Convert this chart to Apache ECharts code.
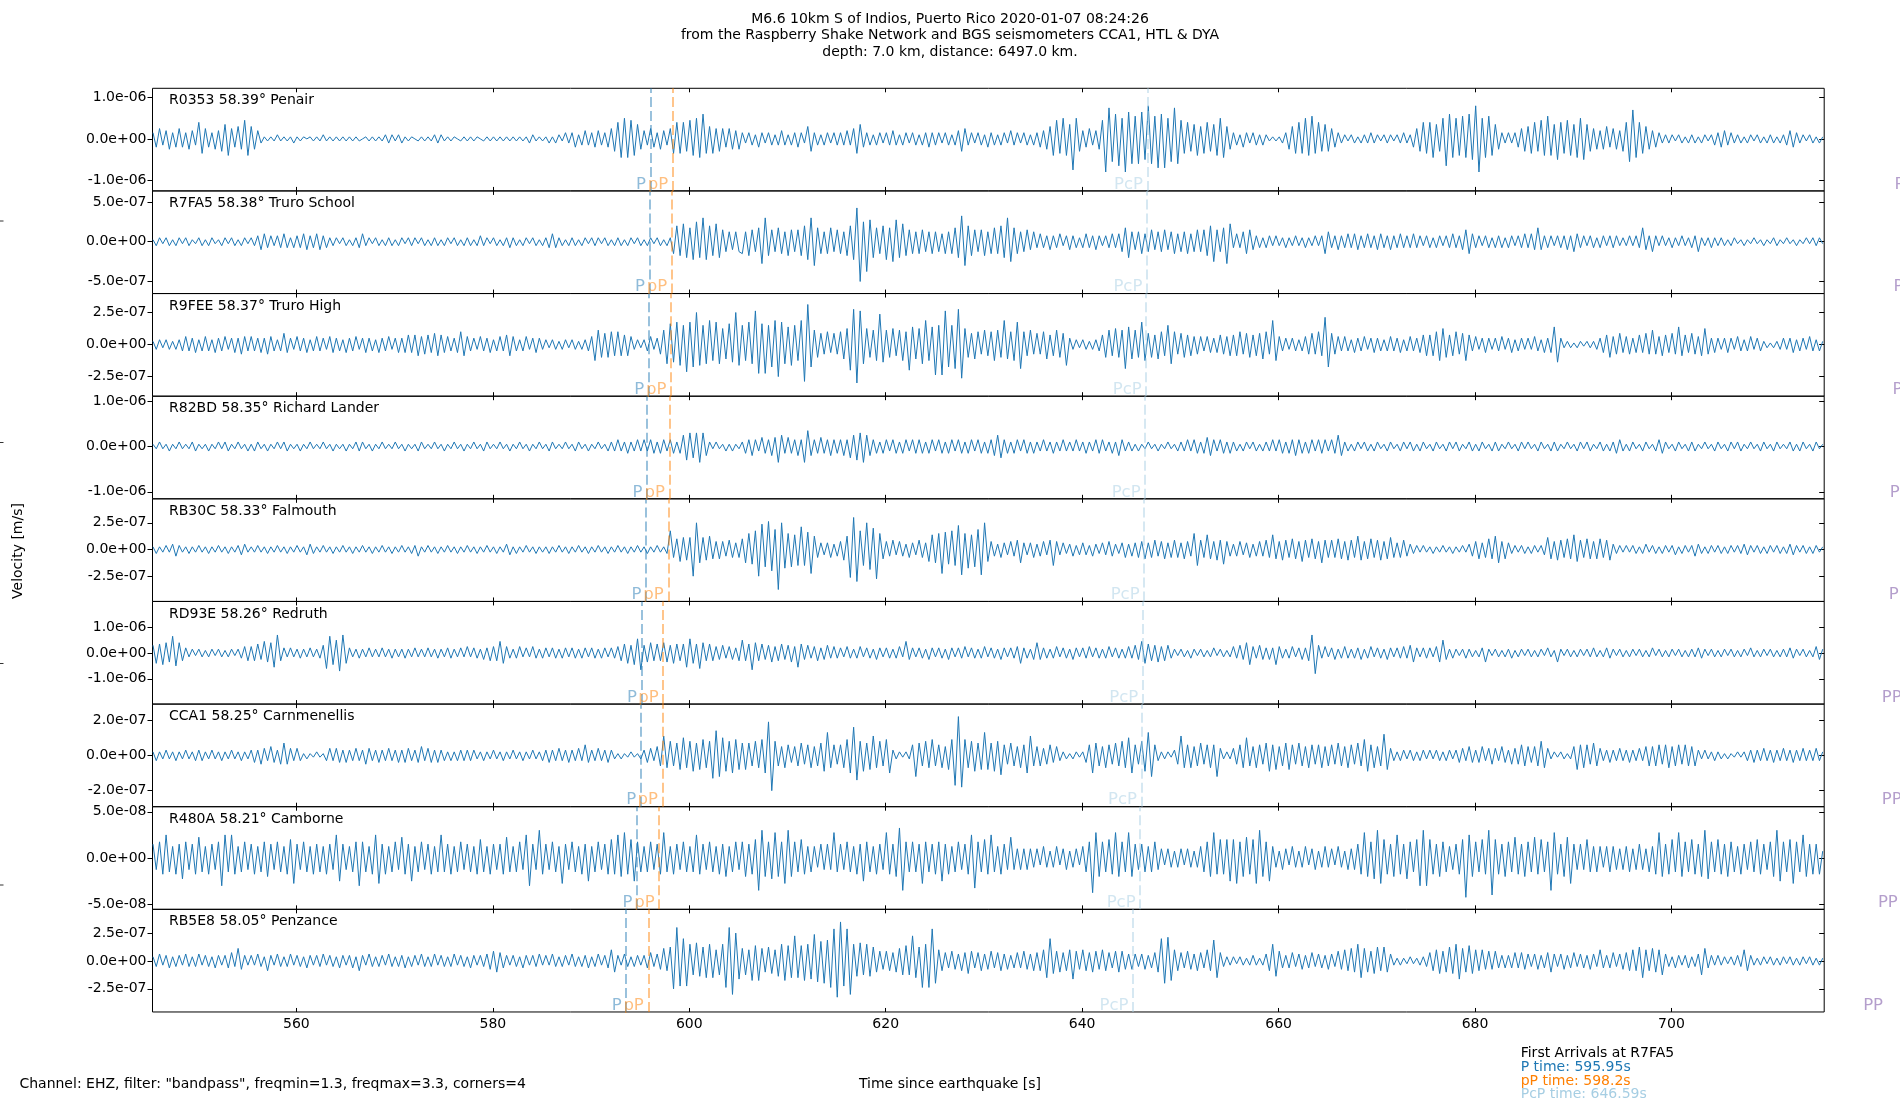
<!DOCTYPE html>
<html><head><meta charset="utf-8">
<script src="https://cdn.jsdelivr.net/npm/echarts@6/dist/echarts.min.js"></script>
<style>html,body{margin:0;padding:0;background:#fff}#chart{width:1900px;height:1100px}</style>
</head><body><div id="chart"></div>
<script>
// ---------------- DATA ----------------
const titleLines = [
  'M6.6 10km S of Indios, Puerto Rico 2020-01-07 08:24:26',
  'from the Raspberry Shake Network and BGS seismometers CCA1, HTL & DYA',
  'depth: 7.0 km, distance: 6497.0 km.'
];
const stationLabels = [
  'R0353 58.39° Penair', 'R7FA5 58.38° Truro School', 'R9FEE 58.37° Truro High',
  'R82BD 58.35° Richard Lander', 'RB30C 58.33° Falmouth', 'RD93E 58.26° Redruth',
  'CCA1 58.25° Carnmenellis', 'R480A 58.21° Camborne', 'RB5E8 58.05° Penzance'
];
const pTimes   = [596.05, 595.95, 595.87, 595.68, 595.60, 595.12, 595.05, 594.68, 593.57];
const pPTimes  = [598.31, 598.20, 598.13, 597.98, 597.86, 597.35, 597.27, 596.94, 595.83];
const pcpTimes = [646.66, 646.59, 646.52, 646.41, 646.31, 646.16, 646.05, 645.90, 645.18];
const ppTimes  = [725.2, 725.1, 725.0, 724.7, 724.6, 723.9, 723.9, 723.5, 722.0];
const yTickValues = [1e-6, 5e-7, 2.5e-7, 1e-6, 2.5e-7, 1e-6, 2e-7, 5e-8, 2.5e-7];
const yTop    = [1.224e-6, 6.39e-7, 3.98e-7, 1.11e-6, 4.75e-7, 2.0e-6, 2.91e-7, 5.55e-8, 4.63e-7];
const yBottom = [-1.258e-6, -6.52e-7, -4.03e-7, -1.154e-6, -4.87e-7, -1.98e-6, -2.91e-7, -5.55e-8, -4.575e-7];
const xTickValues = [560, 580, 600, 620, 640, 660, 680, 700];
const xRange = [545.35, 715.55];
const sampleStart = 545.4;
const sampleStep = 1 / 3;
// amplitude unit of each trace array (m/s per count)
const ampUnit = [5e-8, 2.5e-8, 1.25e-8, 5e-8, 1.25e-8, 5e-8, 1e-8, 2.5e-9, 1.25e-8];
const legendLines = ['First Arrivals at R7FA5', 'P time: 595.95s', 'pP time: 598.2s', 'PcP time: 646.59s'];
const footerLeft = 'Channel: EHZ, filter: "bandpass", freqmin=1.3, freqmax=3.3, corners=4';
const xAxisName = 'Time since earthquake [s]';
const yAxisName = 'Velocity [m/s]';

const traceR0353 = [
3,-4,5,-3,4,-5,3,-4,5,-4,3,-5,4,-3,8,-7,5,-4,3,-5,4,-6,7,-8,5,-4,6,-5,9,-8,
6,-5,4,-2,1,-1,1,-1,2,-1,1,-1,1,-2,1,-1,1,0,1,-1,1,-1,2,-1,1,-1,1,-1,1,-1,
1,-1,1,-1,0,1,-1,1,-1,1,-1,2,-2,2,-1,2,-2,1,-1,1,0,-1,1,-1,1,-1,2,-2,2,-1,
1,-1,1,0,-1,1,-1,1,-1,1,0,-1,1,-1,1,-1,1,-1,1,-1,1,-1,1,-1,1,-2,2,-1,1,-1,
1,-2,1,-2,2,-1,3,-2,3,-4,2,-3,4,-3,3,-4,4,-3,3,-4,5,-6,8,-9,10,-9,9,-8,7,-5,
4,-3,5,-4,3,-5,4,-3,5,-7,8,-7,8,-6,9,-8,10,-9,12,-7,6,-7,5,-6,5,-4,5,-5,4,-5,
3,-2,3,-3,2,-4,3,-2,3,-3,2,-3,4,-3,2,-3,3,-4,3,-2,6,-6,3,-3,2,-3,3,-2,3,-3,
3,-3,4,-3,5,-7,7,-4,3,-3,2,-3,3,-2,3,-3,4,-3,2,-3,3,-2,3,-3,2,-3,3,-4,3,-3,
3,-2,3,-3,2,-3,4,-6,5,-3,3,-2,3,-3,2,-4,3,-3,2,-3,3,-2,4,-3,3,-2,3,-3,2,-3,
3,-4,4,-5,6,-8,9,-7,10,-8,7,-15,10,-6,4,-4,5,-3,4,-5,9,-16,15,-11,12,-13,10,-16,13,-12,
11,-12,13,-10,16,-12,11,-14,12,-14,10,-11,15,-12,9,-7,8,-6,7,-8,6,-7,8,-6,7,-8,10,-9,6,-5,
3,-3,2,-4,3,-2,3,-3,2,-3,2,-1,1,-1,1,-2,3,-5,6,-7,8,-7,10,-8,11,-7,8,-6,7,-6,
5,-4,3,-2,2,-1,2,-2,1,-2,2,-2,3,-2,2,-1,2,-2,2,-1,2,-2,3,-2,2,-4,5,-6,8,-7,
8,-9,7,-6,10,-13,12,-9,10,-8,11,-9,12,-10,16,-16,10,-9,11,-8,7,-5,3,-2,3,-2,3,-4,5,-6,
6,-7,8,-6,9,-8,11,-8,7,-10,8,-7,9,-8,7,-9,10,-10,7,-6,5,-5,4,-5,6,-4,5,-5,4,-6,
8,-11,14,-9,8,-7,6,-5,4,-4,3,-2,2,-2,2,-1,2,-2,1,-2,2,-2,1,-2,2,-1,2,-3,3,-4,
4,-3,3,-2,2,-2,1,-2,2,-1,2,-2,1,-2,2,-2,1,-2,2,-3,4,-4,3,-2,2,-1,2,-2,1,-2,1
];
const traceR7FA5 = [
1,-2,2,-1,2,-2,1,-2,2,-1,2,-2,1,-1,2,-2,1,-2,2,-1,1,-2,2,-1,2,-2,1,-2,2,-1,
2,-2,3,-4,4,-3,3,-2,3,-3,4,-3,2,-3,3,-3,4,-4,3,-3,4,-4,3,-3,2,-2,2,-1,2,-2,
1,-2,2,-3,4,-2,2,-1,2,-2,1,-2,2,-2,1,-2,2,-1,2,-2,2,-1,2,-2,1,-2,2,-2,1,-2,
2,-1,2,-2,1,-2,2,-2,1,-2,3,-2,2,-1,2,-2,1,-2,2,-3,2,-2,1,-2,2,-1,2,-2,1,-2,
2,-3,4,-3,2,-2,1,-2,2,-2,1,-2,2,-1,2,-2,2,-1,2,-2,1,-2,2,-2,1,-2,2,-1,2,-2,
1,-2,2,-1,2,-2,1,-2,2,-6,8,-7,9,-8,7,-9,10,-8,12,-9,8,-7,9,-8,6,-5,5,-4,5,-5,
-6,5,-7,6,-5,7,-11,12,-7,6,-5,7,-6,5,-7,6,-5,6,-7,8,-9,12,-12,7,-6,5,-6,7,-5,6,
-6,5,-7,8,-9,17,-20,10,-15,11,-8,7,-6,8,-9,7,-10,11,-8,9,-7,6,-6,5,-6,6,-5,5,-6,5,
-5,4,-6,5,-6,7,-8,13,-12,8,-7,6,-5,6,-7,5,-6,7,-6,8,-8,12,-10,7,-6,5,-5,6,-4,5,
-3,4,-3,3,-4,3,-3,4,-2,3,-4,3,-3,2,-3,4,-3,3,-4,3,-2,3,-3,4,-3,4,-5,7,-8,5,
-4,5,-6,4,-5,6,-4,5,-5,6,-4,5,-6,4,-5,5,-6,4,-5,6,-5,6,-7,8,-10,6,-5,7,-11,9,
-3,4,-3,5,-6,6,-4,3,-3,2,-3,3,-2,3,-2,2,-3,2,-2,3,-2,2,-3,2,-2,3,-2,3,-6,5,
-3,3,-4,3,-3,4,-3,4,-4,3,-3,4,-3,3,-4,4,-3,3,-4,3,-3,4,-3,3,-3,4,-3,3,-2,3,
-3,2,-3,3,-2,3,-3,4,-3,3,-4,6,-6,4,-3,3,-2,3,-3,2,-3,3,-3,2,-3,3,-2,3,-3,4,
-3,4,-4,7,-4,3,-3,3,-2,3,-3,3,-4,3,-5,4,-3,3,-2,3,-3,2,-3,3,-2,3,-3,3,-2,2,
-2,3,-2,3,-3,7,-4,3,-5,3,-2,3,-2,2,-3,2,-2,3,-2,2,-3,3,-5,2,-2,2,-3,2,-2,2,
-2,1,-2,2,-1,1,-2,1,-1,2,-1,1,-2,1,-1,2,-2,1,-1,2,-1,1,-2,1,-1,2,-1,2,-2,2,-1
];
const traceR9FEE = [
2,-3,3,-2,3,-3,2,-3,3,-4,5,-4,4,-5,3,-4,5,-4,3,-5,4,-4,5,-3,4,-5,4,-6,5,-4,
5,-4,4,-5,4,-6,5,-4,3,-4,7,-5,4,-3,5,-4,4,-5,3,-4,5,-4,4,-3,5,-5,4,-4,3,-5,
4,-4,5,-3,4,-5,4,-4,3,-5,4,-4,5,-3,4,-5,4,-5,6,-5,6,-7,5,-6,6,-5,7,-7,6,-5,
5,-4,4,-5,8,-7,5,-4,4,-3,5,-4,4,-5,3,-4,5,-4,6,-7,5,-4,3,-4,5,-3,4,-5,4,-3,
3,-2,3,-3,2,-3,3,-2,3,-3,2,-3,3,-4,5,-10,9,-8,7,-8,8,-7,8,-7,6,-7,5,-3,3,-2,
3,-4,5,-3,4,-6,9,-12,13,-11,14,-13,12,-17,14,-14,20,-13,12,-12,15,-10,14,-12,10,-9,13,-11,20,-13,
12,-10,14,-12,21,-18,13,-18,12,-14,15,-20,14,-12,11,-13,12,-10,15,-23,25,-14,9,-8,7,-6,8,-5,7,-6,
8,-9,10,-16,22,-24,21,-12,10,-8,9,-10,19,-11,9,-8,10,-7,9,-10,8,-16,11,-9,10,-12,15,-10,11,-19,
12,-19,21,-14,12,-15,22,-21,10,-8,7,-9,8,-6,9,-7,8,-10,9,-8,15,-9,8,-10,14,-15,8,-7,9,-6,
7,-6,8,-9,6,-7,9,-8,7,-13,4,-3,3,-2,3,-3,2,-3,3,-4,6,-8,9,-7,10,-8,9,-15,11,-9,
9,-8,14,-10,7,-8,6,-9,8,-7,12,-12,8,-6,7,-8,6,-7,5,-6,5,-4,5,-5,4,-5,6,-6,5,-7,
6,-7,8,-6,7,-8,6,-7,7,-9,8,-6,15,-10,5,-4,4,-3,4,-4,3,-4,5,-6,7,-6,8,-7,17,-14,
7,-6,5,-4,5,-4,3,-5,4,-4,5,-3,4,-5,4,-4,3,-4,5,-4,4,-5,3,-4,5,-4,4,-5,6,-7,
6,-7,8,-10,10,-8,6,-7,8,-6,7,-10,6,-4,5,-3,4,-5,4,-3,4,-4,5,-3,4,-5,3,-4,4,-3,
4,-3,5,-4,3,-5,4,-5,11,-11,4,-2,2,-2,1,-2,2,-1,2,-2,2,-3,4,-5,6,-8,5,-6,7,-5,
5,-6,4,-5,6,-5,7,-6,9,-6,5,-7,6,-5,7,-6,11,-7,6,-5,7,-6,5,-7,10,-6,4,-5,4,-3,
4,-5,4,-3,5,-4,3,-4,5,-3,4,-4,2,-2,1,-2,2,-3,4,-3,4,-5,3,-4,4,-3,5,-4,3,-4,2
];
const traceR82BD = [
1,-1,2,-1,1,-2,1,-1,2,-1,1,-1,2,-2,1,-1,1,-2,1,-1,2,-1,2,-2,1,-1,2,-1,1,-2,
1,-2,2,-1,1,-2,1,-1,2,-1,2,-2,1,-1,1,-2,1,-1,2,-1,1,-1,2,-1,1,-2,1,-1,1,-2,
1,-1,2,-2,2,-1,1,-2,1,-1,2,-1,1,-1,2,-1,1,-2,1,-1,1,-2,2,-1,1,-1,2,-1,1,-2,
1,-1,2,-1,1,-2,1,-1,2,-1,1,-2,2,-1,1,-1,2,-1,1,-2,1,-1,2,-1,1,-2,1,-1,2,-1,
1,-2,2,-1,1,-1,2,-1,1,-2,2,-1,1,-2,1,-1,2,-1,1,-2,2,-2,3,-2,2,-3,2,-2,3,-2,
3,-2,3,-3,2,-3,3,-2,3,-3,2,-3,5,-6,6,-5,6,-7,6,-4,2,-1,2,-1,1,-2,1,-2,1,-1,
2,-3,3,-4,3,-2,4,-3,3,-4,4,-7,5,-3,4,-3,3,-4,3,-7,7,-4,3,-3,4,-3,3,-4,3,-3,
3,-4,3,-5,5,-6,6,-7,5,-4,3,-3,2,-3,3,-2,3,-3,2,-3,3,-2,3,-3,3,-3,2,-3,3,-2,
3,-3,2,-3,3,-2,3,-3,2,-3,3,-2,3,-3,2,-3,3,-4,5,-5,3,-3,2,-3,3,-2,3,-3,2,-3,
2,-2,3,-2,2,-3,2,-2,3,-2,2,-2,3,-2,2,-3,2,-2,3,-3,3,-2,2,-3,2,-4,3,-2,2,-2,
1,-2,1,-1,2,-1,1,-2,1,-1,2,-1,1,-2,2,-2,3,-2,3,-3,2,-3,4,-4,3,-2,3,-3,2,-3,
2,-2,1,-2,2,-1,2,-2,1,-2,2,-2,3,-2,3,-3,2,-3,3,-4,3,-3,2,-3,3,-2,3,-3,3,-2,
3,-3,5,-4,2,-2,1,-2,2,-1,2,-2,1,-2,2,-1,1,-2,2,-1,1,-2,2,-1,2,-2,1,-2,2,-1,
1,-2,2,-1,1,-2,2,-1,2,-2,1,-1,2,-2,1,-2,2,-1,1,-2,2,-2,1,-1,2,-1,1,-2,2,-1,
2,-1,1,-2,2,-1,1,-2,2,-2,1,-1,2,-1,1,-2,2,-1,2,-2,1,-1,2,-2,1,-2,2,-3,3,-2,
1,-2,2,-1,1,-2,2,-1,1,-2,3,-3,2,-1,1,-2,2,-1,1,-2,2,-2,1,-1,2,-1,1,-2,2,-1,
1,-2,2,-1,2,-2,1,-1,2,-1,1,-2,2,-1,1,-2,2,-1,1,-1,2,-2,1,-2,2,-1,1,-2,2,-1,1
];
const traceRB30C = [
2,-3,2,-2,3,-2,4,-5,3,-2,2,-3,2,-2,3,-2,2,-3,2,-2,3,-2,2,-3,2,-2,3,-4,4,-2,
2,-2,3,-2,2,-3,2,-2,3,-2,2,-3,2,-2,3,-2,2,-4,4,-3,2,-2,3,-2,2,-3,2,-2,3,-2,
2,-3,2,-2,3,-2,2,-3,2,-2,3,-2,2,-3,2,-2,3,-2,2,-3,3,-5,2,-2,3,-2,2,-3,2,-2,
3,-2,2,-3,2,-2,3,-2,2,-3,2,-2,3,-2,2,-3,2,-2,4,-4,2,-3,2,-2,3,-2,2,-3,2,-2,
2,-3,2,-2,3,-2,2,-3,2,-2,3,-2,2,-3,2,-2,3,-2,2,-3,2,-2,3,-2,2,-3,2,-2,3,-2,
2,-3,2,-2,3,-2,2,-3,14,-6,8,-9,9,-8,9,-20,20,-10,9,-8,10,-7,6,-7,6,-5,7,-6,5,-6,
8,-10,12,-11,14,-20,19,-13,21,-16,15,-30,20,-14,12,-13,11,-12,17,-12,13,-18,10,-6,5,-4,5,-6,4,-5,
6,-8,10,-21,24,-24,14,-12,20,-15,16,-22,12,-7,6,-5,7,-4,6,-5,4,-6,5,-4,7,-6,5,-9,11,-10,
12,-18,13,-11,14,-12,18,-19,12,-14,11,-13,15,-19,20,-9,6,-5,4,-6,5,-4,6,-5,7,-10,5,-4,5,-6,
4,-5,6,-4,7,-12,6,-4,5,-3,4,-5,3,-4,5,-4,3,-5,4,-3,5,-4,6,-5,4,-3,5,-6,4,-5,
5,-6,6,-7,5,-6,7,-5,6,-7,5,-6,7,-6,5,-7,6,-5,12,-12,7,-6,11,-7,6,-8,7,-11,6,-5,
4,-5,6,-4,5,-6,4,-5,6,-5,7,-6,11,-7,6,-8,7,-6,8,-7,6,-9,7,-6,8,-7,6,-10,7,-6,
7,-6,8,-7,6,-8,7,-6,10,-8,6,-7,8,-6,7,-8,6,-7,9,-6,5,-6,7,-5,4,-3,3,-2,3,-2,
2,-3,2,-2,3,-2,2,-3,2,-2,3,-2,4,-5,6,-7,5,-6,8,-7,10,-10,6,-7,5,-3,3,-2,3,-3,
2,-3,3,-2,3,-4,9,-7,6,-8,7,-6,8,-7,11,-9,7,-6,8,-7,6,-7,8,-6,7,-8,4,-3,3,-2,
3,-2,3,-3,2,-3,4,-2,3,-3,2,-3,3,-2,3,-4,2,-3,3,-2,3,-5,4,-3,2,-3,3,-2,3,-3,
2,-3,3,-2,3,-3,4,-4,3,-2,3,-3,2,-3,3,-2,3,-3,2,-3,4,-4,3,-2,3,-3,2,-3,3,-2,2
];
const traceRD93E = [
6,-8,7,-9,8,-7,13,-10,8,-6,4,-3,3,-2,3,-3,2,-3,3,-2,3,-3,2,-3,3,-2,3,-4,5,-6,
5,-6,7,-5,9,-7,8,-11,14,-6,4,-3,4,-3,3,-4,3,-3,4,-3,3,-4,6,-12,13,-9,10,-14,14,-8,
4,-3,3,-4,3,-3,4,-3,3,-3,4,-3,3,-4,3,-3,3,-4,3,-3,4,-3,3,-3,4,-3,3,-4,3,-3,
4,-4,3,-3,4,-3,5,-3,4,-4,3,-5,4,-6,5,-6,9,-8,5,-4,3,-4,5,-3,4,-3,5,-4,3,-4,
4,-3,4,-4,3,-4,4,-3,4,-4,3,-4,4,-3,4,-4,3,-4,4,-3,4,-4,5,-6,7,-8,6,-9,11,-13,
6,-7,8,-6,7,-6,8,-7,6,-8,7,-6,7,-11,11,-8,7,-12,8,-6,7,-6,5,-5,6,-4,5,-5,4,-6,
10,-6,7,-13,8,-6,7,-5,6,-7,5,-6,7,-5,6,-7,5,-11,7,-5,6,-4,5,-6,4,-5,6,-4,5,-4,
4,-3,5,-4,3,-4,5,-3,4,-4,3,-5,4,-3,4,-4,3,-4,5,-3,9,-5,4,-3,4,-4,3,-5,4,-3,
4,-4,3,-5,4,-3,4,-4,5,-3,4,-4,3,-4,5,-3,4,-4,3,-5,4,-3,4,-4,5,-8,4,-4,3,-5,
8,-5,4,-4,3,-4,5,-3,4,-4,3,-5,4,-3,4,-4,5,-3,4,-4,3,-4,5,-3,4,-4,3,-4,5,-4,
6,-5,9,-8,7,-6,6,-7,5,-6,6,-4,3,-2,3,-3,2,-4,3,-2,3,-3,2,-3,4,-2,3,-3,2,-3,
5,-4,6,-5,8,-9,5,-4,6,-5,4,-5,4,-9,5,-4,3,-4,5,-3,4,-5,4,-6,14,-16,6,-4,5,-3,
4,-5,3,-4,5,-4,3,-4,4,-5,3,-4,5,-3,4,-4,3,-5,4,-3,4,-4,5,-4,6,-7,4,-3,4,-4,
4,-3,5,-7,10,-5,3,-4,3,-2,3,-4,3,-3,2,-3,4,-7,3,-2,3,-3,2,-3,3,-4,2,-3,3,-2,
3,-3,2,-3,3,-2,4,-3,2,-7,3,-2,3,-3,2,-3,3,-2,3,-3,4,-3,2,-3,4,-4,3,-2,3,-3,
2,-3,3,-2,3,-3,2,-3,4,-2,3,-3,2,-3,3,-2,3,-3,2,-3,3,-3,4,-4,3,-2,3,-3,2,-3,
3,-2,3,-3,2,-3,3,-2,4,-3,2,-3,3,-2,3,-3,2,-3,3,-3,4,-4,3,-2,3,-3,2,-3,5,-5,3
];
const traceCCA1 = [
2,-3,2,-2,3,-2,2,-3,2,-2,3,-2,2,-3,3,-3,2,-2,3,-2,2,-3,2,-2,3,-2,2,-3,2,-2,
3,-4,3,-5,4,-3,5,-4,3,-5,7,-5,4,-3,4,-3,1,-2,1,-1,2,-1,1,-3,4,-3,4,-4,3,-4,
3,-3,4,-3,3,-5,4,-3,3,-4,3,-3,4,-3,3,-4,3,-4,4,-3,3,-4,5,-3,4,-4,3,-4,3,-3,
2,-3,2,-3,3,-3,3,-3,3,-2,2,-3,2,-2,3,-2,2,-3,2,-2,3,-2,2,-3,2,-2,3,-2,2,-3,
3,-4,3,-3,4,-3,3,-4,3,-3,4,-3,6,-4,3,-3,4,-3,3,-4,3,-2,1,-2,1,-1,2,-1,1,-2,
3,-4,4,-3,5,-6,11,-7,8,-6,7,-8,10,-7,8,-9,7,-8,9,-7,8,-13,14,-12,10,-9,8,-10,9,-8,
7,-8,7,-6,8,-7,9,-10,19,-20,8,-6,5,-7,6,-4,5,-6,7,-5,6,-7,5,-6,7,-9,13,-7,6,-5,
6,-7,9,-10,16,-14,8,-9,7,-8,11,-7,8,-6,9,-10,3,-2,2,-1,2,-2,6,-12,7,-6,8,-7,9,-6,
6,-7,5,-8,9,-17,22,-18,9,-7,8,-9,7,-8,13,-8,7,-9,8,-11,6,-5,7,-6,5,-7,6,-10,11,-6,
5,-6,4,-5,6,-4,5,-3,2,-2,1,-2,2,-1,2,-4,6,-10,7,-6,5,-7,6,-5,7,-6,8,-7,10,-10,
6,-5,8,-9,13,-12,6,-3,2,-2,2,-1,3,-5,11,-7,6,-7,5,-6,7,-5,6,-7,6,-12,4,-2,2,-2,
4,-5,6,-7,10,-6,5,-7,6,-5,7,-9,6,-8,5,-6,7,-8,6,-5,7,-6,5,-7,6,-5,6,-7,5,-6,
6,-5,7,-6,5,-7,6,-5,7,-6,9,-9,6,-7,5,-6,12,-8,4,-3,2,-3,3,-2,3,-3,2,-3,3,-2,
3,-2,3,-3,2,-3,3,-2,3,-4,4,-3,5,-4,3,-4,5,-3,4,-5,4,-3,5,-4,3,-5,4,-5,6,-6,
5,-4,5,-6,8,-7,4,-2,2,-1,2,-2,1,-2,5,-8,6,-7,6,-5,7,-6,4,-3,3,-4,3,-3,4,-3,
3,-4,3,-3,4,-3,5,-6,5,-6,6,-5,6,-7,5,-6,6,-5,6,-6,5,-6,3,-2,3,-2,2,-3,2,-2,
1,-2,1,-1,2,-1,2,-3,3,-4,3,-3,4,-3,3,-4,3,-3,4,-3,3,-4,3,-3,4,-3,3,-3,4,-3,2
];
const traceR480A = [
6,-5,7,-7,10,-6,5,-7,6,-9,7,-5,6,-7,9,-6,5,-7,6,-5,7,-12,10,-6,10,-7,5,-6,7,-5,
6,-7,5,-6,7,-8,6,-5,7,-6,5,-7,8,-11,6,-5,7,-6,5,-7,6,-6,5,-7,6,-5,10,-10,6,-5,
5,-6,7,-12,7,-6,5,-7,10,-11,6,-7,5,-6,7,-5,9,-7,6,-10,5,-6,7,-5,6,-7,5,-6,10,-6,
6,-7,5,-6,7,-5,6,-6,5,-7,8,-6,5,-7,6,-5,6,-7,9,-6,5,-6,7,-5,10,-12,6,-5,12,-7,
6,-5,7,-6,5,-11,6,-5,7,-6,5,-7,6,-10,5,-6,7,-5,6,-7,8,-7,10,-8,11,-7,8,-10,7,-6,
5,-6,7,-5,6,-7,11,-6,5,-7,6,-5,7,-6,5,-6,10,-7,6,-5,7,-6,5,-7,6,-8,5,-6,7,-5,
7,-8,6,-7,8,-14,12,-8,7,-9,11,-8,7,-11,12,-8,7,-6,8,-7,5,-6,5,-4,6,-5,6,-5,11,-6,
6,-5,7,-6,5,-7,6,-10,7,-6,5,-7,6,-5,11,-7,6,-8,13,-14,7,-6,7,-6,6,-11,7,-6,6,-7,
7,-10,6,-7,5,-6,7,-5,6,-7,10,-13,7,-6,8,-7,10,-6,5,-7,6,-5,9,-5,4,-5,4,-5,4,-4,
4,-3,5,-4,3,-4,5,-3,4,-5,3,-4,4,-3,5,-6,7,-15,11,-8,7,-6,8,-7,11,-8,7,-6,11,-8,
6,-5,6,-6,5,-6,7,-5,4,-3,4,-4,3,-4,4,-3,4,-4,3,-4,5,-6,7,-8,11,-7,8,-7,8,-10,
8,-11,7,-8,9,-7,8,-11,12,-8,7,-10,5,-4,3,-5,4,-3,5,-4,3,-4,5,-3,4,-5,3,-4,5,-4,
4,-3,5,-4,3,-5,4,-5,6,-7,11,-8,7,-9,12,-11,8,-7,6,-8,10,-7,6,-9,7,-6,8,-12,12,-12,
8,-7,6,-8,7,-6,5,-5,6,-7,8,-17,10,-8,7,-6,8,-7,12,-16,8,-7,6,-8,7,-6,9,-7,6,-8,
7,-6,9,-7,8,-6,7,-14,11,-7,6,-8,9,-11,6,-5,6,-5,8,-6,5,-6,5,-4,5,-6,5,-5,4,-5,
5,-6,4,-5,6,-5,4,-6,5,-7,11,-8,6,-7,8,-6,11,-8,7,-6,8,-7,6,-8,12,-9,7,-6,8,-7,
6,-8,7,-6,5,-7,6,-5,7,-6,8,-7,6,-5,7,-8,12,-10,7,-6,8,-11,7,-6,10,-8,6,-7,6,-7,3
];
const traceRB5E8 = [
3,-4,5,-3,4,-5,3,-4,4,-3,5,-4,3,-4,5,-3,4,-4,3,-5,4,-3,4,-5,6,-4,9,-6,4,-3,
4,-3,5,-4,3,-7,4,-3,5,-4,3,-4,5,-3,4,-4,3,-5,4,-3,4,-4,5,-3,4,-4,3,-5,4,-3,
4,-5,3,-7,4,-3,5,-4,3,-4,4,-3,5,-4,3,-4,4,-5,3,-4,4,-3,5,-4,3,-4,5,-3,4,-4,
3,-4,5,-3,4,-4,3,-5,4,-3,4,-4,5,-6,7,-8,6,-5,4,-3,4,-4,3,-5,4,-3,4,-4,5,-3,
4,-3,5,-4,3,-4,4,-3,5,-4,3,-4,4,-5,3,-4,5,-3,4,-5,8,-8,4,-3,5,-4,3,-4,4,-3,
4,-5,6,-4,5,-6,9,-7,10,-20,24,-18,16,-18,12,-10,13,-11,10,-12,12,-12,8,-10,12,-19,24,-24,20,-13,
9,-10,8,-14,11,-14,9,-8,10,-9,8,-11,12,-14,11,-12,18,-12,11,-14,12,-13,19,-15,14,-16,15,-19,23,-26,
28,-18,23,-24,12,-11,13,-10,12,-11,10,-8,7,-6,7,-7,6,-8,9,-10,11,-10,18,-12,10,-19,12,-19,23,-16,
8,-7,6,-5,7,-6,5,-7,6,-9,7,-5,6,-7,5,-6,7,-5,6,-7,5,-6,4,-5,6,-5,7,-6,5,-7,
6,-7,8,-12,16,-9,7,-8,6,-7,8,-13,7,-6,8,-7,6,-8,7,-6,8,-7,6,-5,7,-8,7,-6,5,-6,
5,-4,5,-6,4,-5,6,-8,16,-16,17,-14,8,-7,6,-5,7,-6,5,-7,6,-5,8,-7,15,-12,6,-4,3,-3,
3,-2,3,-3,2,-3,4,-3,2,-3,5,-7,12,-11,7,-5,4,-5,6,-4,5,-6,4,-5,6,-4,5,-5,4,-6,
5,-4,7,-6,8,-7,9,-8,12,-12,9,-8,7,-9,10,-7,10,-8,5,-3,2,-3,2,-2,3,-2,2,-3,3,-4,
6,-7,8,-9,7,-8,10,-9,12,-13,9,-8,11,-9,8,-7,8,-6,7,-6,7,-5,4,-5,4,-5,6,-5,6,-6,
5,-4,5,-6,4,-5,6,-8,5,-4,5,-6,4,-5,6,-4,5,-5,4,-6,5,-4,8,-5,4,-5,6,-4,5,-6,
6,-7,8,-7,10,-12,8,-7,9,-8,8,-10,5,-4,3,-5,4,-3,4,-5,3,-4,5,-10,9,-5,4,-3,4,-3,
3,-2,3,-3,4,-4,8,-7,4,-3,2,-3,3,-2,3,-3,2,-3,3,-2,3,-3,2,-3,3,-2,3,-3,2,-3,2
];
const traces = [traceR0353, traceR7FA5, traceR9FEE, traceR82BD, traceRB30C, traceRD93E, traceCCA1, traceR480A, traceRB5E8];

// ---------------- STYLE / LAYOUT ----------------
const FONT = 'DejaVu Sans';
const TRACE_COLOR = '#1f77b4';
const TXT_DY = 2.5; // baseline correction for middle-aligned text
const gridLeft = 152.5, gridRightEdge = 1824.2, gridTop = 88.3, panelH = 102.63;
const phaseStyles = [
  {name: 'P',   times: pTimes,   line: 'rgba(31,120,180,0.5)',  text: 'rgba(31,120,180,0.5)', drawLine: true},
  {name: 'pP',  times: pPTimes,  line: 'rgba(255,127,0,0.5)',   text: 'rgba(255,127,0,0.5)',  drawLine: true},
  {name: 'PcP', times: pcpTimes, line: 'rgba(166,206,227,0.5)', text: 'rgba(166,206,227,0.5)', drawLine: true},
  {name: 'PP',  times: ppTimes,  line: 'rgba(106,61,154,0.5)',  text: 'rgba(106,61,154,0.5)', drawLine: false}
];

function sci(v) {
  if (v === 0) return '0.0e+00';
  const e = Math.floor(Math.log10(Math.abs(v)) + 1e-9);
  const m = v / Math.pow(10, e);
  return m.toFixed(1) + 'e' + (e < 0 ? '-' : '+') + String(Math.abs(e)).padStart(2, '0');
}

const n = traces.length;
const grids = [], xAxes = [], yAxes = [], series = [];
for (let i = 0; i < n; i++) {
  grids.push({
    left: gridLeft, width: gridRightEdge - gridLeft, top: gridTop + i * panelH, height: panelH,
    show: true, borderColor: '#000', borderWidth: 1, backgroundColor: 'transparent',
    containLabel: false, outerBoundsMode: 'none'
  });
}
const tickStyle = {color: '#000', width: 1};
for (let i = 0; i < n; i++) {
  xAxes.push({
    type: 'value', gridIndex: i, min: xRange[0], max: xRange[1], position: 'bottom',
    axisLine: {show: false, onZero: false}, splitLine: {show: false},
    axisTick: {show: true, inside: true, length: 4, lineStyle: tickStyle, customValues: xTickValues},
    axisLabel: {show: i === n - 1, customValues: xTickValues, color: '#000', fontFamily: FONT, fontSize: 14, margin: 5}
  });
}
for (let i = 0; i < n; i++) {
  xAxes.push({
    type: 'value', gridIndex: i, min: xRange[0], max: xRange[1], position: 'top',
    axisLine: {show: false, onZero: false}, splitLine: {show: false},
    axisTick: {show: true, inside: true, length: 4, lineStyle: tickStyle, customValues: xTickValues},
    axisLabel: {show: false}
  });
}
for (let i = 0; i < n; i++) {
  const tv = [-yTickValues[i], 0, yTickValues[i]];
  yAxes.push({
    type: 'value', gridIndex: i, min: yBottom[i], max: yTop[i], position: 'left',
    axisLine: {show: false, onZero: false}, splitLine: {show: false},
    axisTick: {show: true, inside: false, length: 5, lineStyle: tickStyle, customValues: tv},
    axisLabel: {show: true, customValues: tv, formatter: sci, color: '#000', fontFamily: FONT, fontSize: 14, margin: 6}
  });
}
for (let i = 0; i < n; i++) {
  const tv = [-yTickValues[i], 0, yTickValues[i]];
  yAxes.push({
    type: 'value', gridIndex: i, min: yBottom[i], max: yTop[i], position: 'right',
    axisLine: {show: false, onZero: false}, splitLine: {show: false},
    axisTick: {show: true, inside: true, length: 5, lineStyle: tickStyle, customValues: tv},
    axisLabel: {show: false}
  });
}
for (let i = 0; i < n; i++) {
  const data = traces[i].map((v, k) => [sampleStart + k * sampleStep, v * ampUnit[i]]);
  const mlData = phaseStyles.filter(p => p.drawLine).map(p => ({
    xAxis: p.times[i],
    lineStyle: {color: p.line, width: 1.8, type: [10, 4]}
  }));
  series.push({
    type: 'line', xAxisIndex: i, yAxisIndex: i, data: data,
    showSymbol: false, symbol: 'none', silent: true, clip: true,
    lineStyle: {color: TRACE_COLOR, width: 1}, itemStyle: {color: TRACE_COLOR},
    emphasis: {disabled: true},
    markLine: {silent: true, symbol: ['none', 'none'], label: {show: false}, animation: false, data: mlData}
  });
}

const chart = echarts.init(document.getElementById('chart'), null, {renderer: 'canvas'});
chart.setOption({
  animation: false,
  backgroundColor: '#fff',
  grid: grids, xAxis: xAxes, yAxis: yAxes, series: series
});

// ---------------- TEXT OVERLAYS ----------------
const g = [];
titleLines.forEach((t, k) => g.push({
  type: 'text', silent: true, z: 50,
  style: {text: t, x: 950, y: 16.7 + k * 16.6 + TXT_DY, align: 'center', verticalAlign: 'middle', fontFamily: FONT, fontSize: 14, fill: '#000'}
}));
for (let i = 0; i < n; i++) {
  const top = gridTop + i * panelH;
  g.push({type: 'text', silent: true, z: 50,
    style: {text: stationLabels[i], x: gridLeft + 16.5, y: top + 10 + TXT_DY, align: 'left', verticalAlign: 'middle', fontFamily: FONT, fontSize: 14, fill: '#000'}});
  const yb = chart.convertToPixel({yAxisIndex: i}, yBottom[i]);
  phaseStyles.forEach(p => {
    const x = chart.convertToPixel({xAxisIndex: i}, p.times[i]);
    g.push({type: 'text', silent: true, z: 50,
      style: {text: p.name, x: x - 4.5, y: yb + 2, align: 'right', verticalAlign: 'bottom', fontFamily: FONT, fontSize: 16.5, fill: p.text}});
  });
}
g.push({type: 'text', silent: true, z: 50, rotation: Math.PI / 2, x: 18, y: 551,
  style: {text: yAxisName, x: 0, y: 0, align: 'center', verticalAlign: 'middle', fontFamily: FONT, fontSize: 14, fill: '#000'}});
g.push({type: 'text', silent: true, z: 50,
  style: {text: xAxisName, x: 950, y: 1081.7 + TXT_DY, align: 'center', verticalAlign: 'middle', fontFamily: FONT, fontSize: 14, fill: '#000'}});
g.push({type: 'text', silent: true, z: 50,
  style: {text: footerLeft, x: 19.4, y: 1081.7 + TXT_DY, align: 'left', verticalAlign: 'middle', fontFamily: FONT, fontSize: 14, fill: '#000'}});
const legendColors = ['#000000', '#1f78b4', '#ff7f00', '#a6cee3'];
const legendY = [1050.7, 1064.7, 1078.0, 1091.7];
legendLines.forEach((t, k) => g.push({type: 'text', silent: true, z: 50,
  style: {text: t, x: 1520.7, y: legendY[k] + 3, align: 'left', verticalAlign: 'middle', fontFamily: FONT, fontSize: 14, fill: legendColors[k]}}));
[221, 442.5, 663.5, 885].forEach(y => g.push({type: 'line', silent: true, z: 50,
  shape: {x1: 0, y1: y, x2: 3.5, y2: y}, style: {stroke: '#333', lineWidth: 1}}));
chart.setOption({graphic: g});
</script>
</body></html>
